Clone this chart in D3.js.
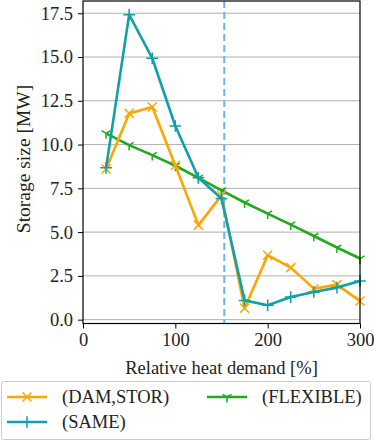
<!DOCTYPE html>
<html>
<head>
<meta charset="utf-8">
<script src="https://cdn.jsdelivr.net/npm/d3@7"></script>
<style>
  html, body { margin: 0; padding: 0; background: #fff; overflow: hidden; }
  svg { display: block; }
</style>
</head>
<body>
<div id="chart"></div>
<script>
// data
const demand = [25, 50, 75, 100, 125, 150, 175, 200, 225, 250, 275, 300];
const damStor = [8.6, 11.78, 12.15, 8.8, 5.4, 7.1, 0.65, 3.68, 2.97, 1.77, 2.0, 1.06];
const same = [8.67, 17.42, 14.93, 11.06, 8.1, 6.92, 1.1, 0.82, 1.29, 1.58, 1.83, 2.21];
const flexible = [10.64, 9.97, 9.4, 8.79, 8.1, 7.38, 6.69, 6.06, 5.43, 4.78, 4.12, 3.49];
const yTicks = [0, 2.5, 5, 7.5, 10, 12.5, 15, 17.5];
const xTicks = [0, 100, 200, 300];
const thresholdX = 153;

const series = [
  { name: "(DAM,STOR)", values: damStor, color: "#ffa500", marker: "x" },
  { name: "(SAME)", values: same, color: "#10a0aa", marker: "+" },
  { name: "(FLEXIBLE)", values: flexible, color: "#20aa20", marker: "tri" }
];

const FONT = "'Liberation Serif', 'Times New Roman', Times, 'DejaVu Serif', serif";
const FS = "18.5px";

const width = 374, height = 442;
const margin = { top: 1, right: 14, bottom: 118.5, left: 83 };
const innerWidth = width - margin.left - margin.right;
const innerHeight = height - margin.top - margin.bottom;

const svg = d3.select("#chart").append("svg")
  .attr("width", width)
  .attr("height", height)
  .attr("font-family", FONT);

const g = svg.append("g")
  .attr("transform", `translate(${margin.left},${margin.top})`);

const x = d3.scaleLinear().domain([0, 300]).range([0, innerWidth]);
const y = d3.scaleLinear().domain([-0.22, 18.2]).range([innerHeight, 0]);

// grid
g.append("g").selectAll("line")
  .data(yTicks).enter().append("line")
  .attr("x1", 0).attr("x2", innerWidth)
  .attr("y1", d => y(d)).attr("y2", d => y(d))
  .attr("stroke", "#b0b0b0").attr("stroke-width", 1);

// axes
const xAxis = g.append("g")
  .attr("transform", `translate(0,${innerHeight})`)
  .call(d3.axisBottom(x).tickValues(xTicks).tickSize(5).tickPadding(4).tickFormat(d3.format("d")));
const yAxis = g.append("g")
  .call(d3.axisLeft(y).tickValues(yTicks).tickSize(5).tickPadding(5).tickFormat(d3.format(".1f")));
[xAxis, yAxis].forEach(a => {
  a.attr("font-family", FONT).attr("font-size", FS);
  a.select(".domain").remove();
  a.selectAll("line").attr("stroke", "#000").attr("stroke-width", 1);
  a.selectAll("text").attr("fill", "#222");
});

// threshold line
g.append("line")
  .attr("x1", x(thresholdX)).attr("x2", x(thresholdX))
  .attr("y1", 0).attr("y2", innerHeight)
  .attr("stroke", "#6cb4ec").attr("stroke-width", 2)
  .attr("stroke-dasharray", "7,4");

// marker drawing
function drawMarker(sel, type, color, s) {
  let p;
  if (type === "x") p = `M${-s},${-s}L${s},${s}M${-s},${s}L${s},${-s}`;
  else if (type === "+") p = `M${-s * 1.3},0L${s * 1.3},0M0,${-s * 1.3}L0,${s * 1.3}`;
  else p = `M0,0L0,${s * 1.2}M0,0L${-s},${-s * 0.6}M0,0L${s},${-s * 0.6}`;
  sel.append("path").attr("d", p).attr("stroke", color).attr("stroke-width", 1.5).attr("fill", "none");
}

const line = d3.line().x((d, i) => x(demand[i])).y(d => y(d));
const plotOrder = [series[2], series[0], series[1]];
const plotArea = g.append("g");
plotOrder.forEach(s => {
  plotArea.append("path")
    .datum(s.values)
    .attr("d", line)
    .attr("fill", "none")
    .attr("stroke", s.color)
    .attr("stroke-width", 2.6)
    .attr("stroke-linejoin", "round");
  s.values.forEach((v, i) => {
    const m = plotArea.append("g").attr("transform", `translate(${x(demand[i])},${y(v)})`);
    drawMarker(m, s.marker, s.color, 4.5);
  });
});

// frame
g.append("rect")
  .attr("width", innerWidth).attr("height", innerHeight)
  .attr("fill", "none").attr("stroke", "#000").attr("stroke-width", 1.2);

// axis labels
svg.append("text")
  .attr("x", margin.left + innerWidth / 2).attr("y", 374)
  .attr("text-anchor", "middle").attr("font-size", FS).attr("fill", "#222")
  .text("Relative heat demand [%]");
svg.append("text")
  .attr("transform", "translate(30,159) rotate(-90)")
  .attr("text-anchor", "middle").attr("font-size", "19.5px").attr("fill", "#222")
  .text("Storage size [MW]");

// legend
const legend = svg.append("g");
legend.append("rect")
  .attr("x", 1.5).attr("y", 381.5).attr("width", 369).attr("height", 58)
  .attr("rx", 2).attr("fill", "#fff").attr("stroke", "#cccccc").attr("stroke-width", 1);
const legendPos = [
  { s: series[0], lx: 7, ly: 397 },
  { s: series[1], lx: 7, ly: 422 },
  { s: series[2], lx: 207, ly: 397 }
];
legendPos.forEach(p => {
  legend.append("line")
    .attr("x1", p.lx).attr("x2", p.lx + 40)
    .attr("y1", p.ly).attr("y2", p.ly)
    .attr("stroke", p.s.color).attr("stroke-width", 2.6);
  const m = legend.append("g").attr("transform", `translate(${p.lx + 20},${p.ly})`);
  drawMarker(m, p.s.marker, p.s.color, 4.5);
  legend.append("text")
    .attr("x", p.lx + 55).attr("y", p.ly + 6)
    .attr("font-size", FS).attr("fill", "#222")
    .text(p.s.name);
});
</script>
</body>
</html>
